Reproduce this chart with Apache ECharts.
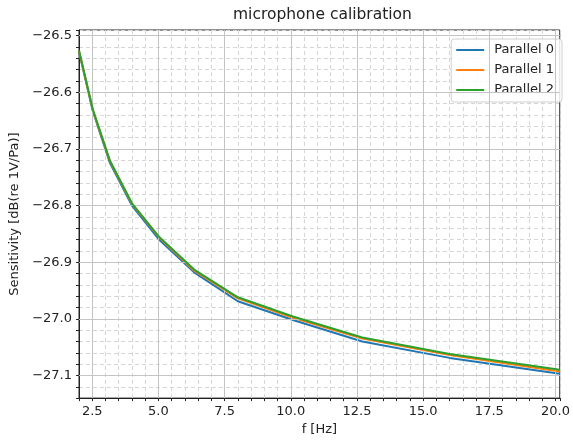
<!DOCTYPE html>
<html><head><meta charset="utf-8">
<script src="https://cdn.jsdelivr.net/npm/echarts@6/dist/echarts.min.js"></script>
<style>html,body{margin:0;padding:0;background:#fff}#c{width:573px;height:441px}</style>
</head><body><div id="c"></div>
<script>
const freqs = [2.0, 2.52, 3.17, 4.0, 5.04, 6.35, 8.0, 10.08, 12.7, 16.0, 20.16];
const parallel0 = [-26.528, -26.633, -26.725, -26.800, -26.861, -26.918, -26.969, -27.002, -27.040, -27.069, -27.097];
const parallel1 = [-26.527, -26.631, -26.722, -26.797, -26.857, -26.915, -26.964, -26.998, -27.035, -27.064, -27.093];
const parallel2 = [-26.526, -26.630, -26.721, -26.796, -26.856, -26.913, -26.962, -26.996, -27.033, -27.062, -27.090];
const seriesNames = ['Parallel 0', 'Parallel 1', 'Parallel 2'];
const seriesColors = ['#1f77b4', '#ff7f0e', '#2ca02c'];
const xMajorTicks = [2.5, 5.0, 7.5, 10.0, 12.5, 15.0, 17.5, 20.0];
const yMajorTicks = [-26.5, -26.6, -26.7, -26.8, -26.9, -27.0, -27.1];
const titleText = 'microphone calibration';
const xName = 'f [Hz]';
const yName = 'Sensitivity [dB(re 1V/Pa)]';

const FONT = 'DejaVu Sans';
const chart = echarts.init(document.getElementById('c'), null, {renderer: 'canvas'});
const allVals = [parallel0, parallel1, parallel2];
function isMult(v, step) { const q = v / step; return Math.abs(q - Math.round(q)) < 1e-6; }

const lineSeries = allVals.map((vals, k) => ({
  name: seriesNames[k],
  type: 'line',
  data: freqs.map((f, i) => [f, vals[i]]),
  symbol: 'none',
  z: 3 + k,
  lineStyle: {color: seriesColors[k], width: 2},
  itemStyle: {color: seriesColors[k]}
}));

const gridSeries = {
  name: '_grid', type: 'line', data: [], z: 1, silent: true,
  markLine: {
    silent: true, symbol: ['none', 'none'], label: {show: false}, animation: false,
    lineStyle: {color: '#c4c4c4', type: 'solid', width: 1},
    emphasis: {disabled: true},
    data: [...xMajorTicks.map(v => ({xAxis: v})), ...yMajorTicks.map(v => ({yAxis: v}))]
  }
};

chart.setOption({
  animation: false,
  backgroundColor: '#fff',
  title: {
    text: titleText, left: 228, top: 2, padding: 5,
    textStyle: {fontFamily: FONT, fontSize: 15.5, fontWeight: 'normal', color: '#222'}
  },
  grid: {left: 79, right: 9, top: 30, bottom: 42, show: true, borderColor: '#222', borderWidth: 1, backgroundColor: 'transparent'},
  legend: {
    data: seriesNames, orient: 'vertical', right: 11, top: 39,
    icon: 'rect', itemWidth: 28, itemHeight: 2, itemGap: 6,
    padding: [4, 8, 5, 5],
    backgroundColor: 'rgba(255,255,255,0.85)', borderColor: '#d0d0d0', borderWidth: 1, borderRadius: 3,
    textStyle: {fontFamily: FONT, fontSize: 13, lineHeight: 14, color: '#222', padding: [0, 0, 0, 5]}
  },
  xAxis: {
    type: 'value', min: 2.0, max: 20.16, interval: 0.5,
    name: xName, nameLocation: 'middle', nameGap: 24,
    nameTextStyle: {fontFamily: FONT, fontSize: 13, color: '#222'},
    axisLine: {show: true, lineStyle: {color: '#222', width: 1}},
    axisTick: {show: true, length: 3, lineStyle: {color: '#222'}},
    axisLabel: {
      fontFamily: FONT, fontSize: 13, color: '#222', margin: 7,
      formatter: v => isMult(v, 2.5) ? v.toFixed(1) : ''
    },
    splitLine: {show: true, lineStyle: {color: '#d6d6d6', type: [4, 3], width: 1}}
  },
  yAxis: {
    type: 'value', min: -27.14, max: -26.49, interval: 0.02,
    name: yName, nameLocation: 'middle', nameGap: 55,
    nameTextStyle: {fontFamily: FONT, fontSize: 13, color: '#222'},
    axisLine: {show: true, lineStyle: {color: '#222', width: 1}},
    axisTick: {show: true, length: 3, lineStyle: {color: '#222'}},
    axisLabel: {
      fontFamily: FONT, fontSize: 13, color: '#222', margin: 7,
      formatter: v => isMult(v, 0.1) ? '\u2212' + Math.abs(v).toFixed(1) : ''
    },
    splitLine: {show: true, lineStyle: {color: '#d6d6d6', type: [4, 3], width: 1}}
  },
  series: [gridSeries, ...lineSeries]
});
</script>
</body></html>
